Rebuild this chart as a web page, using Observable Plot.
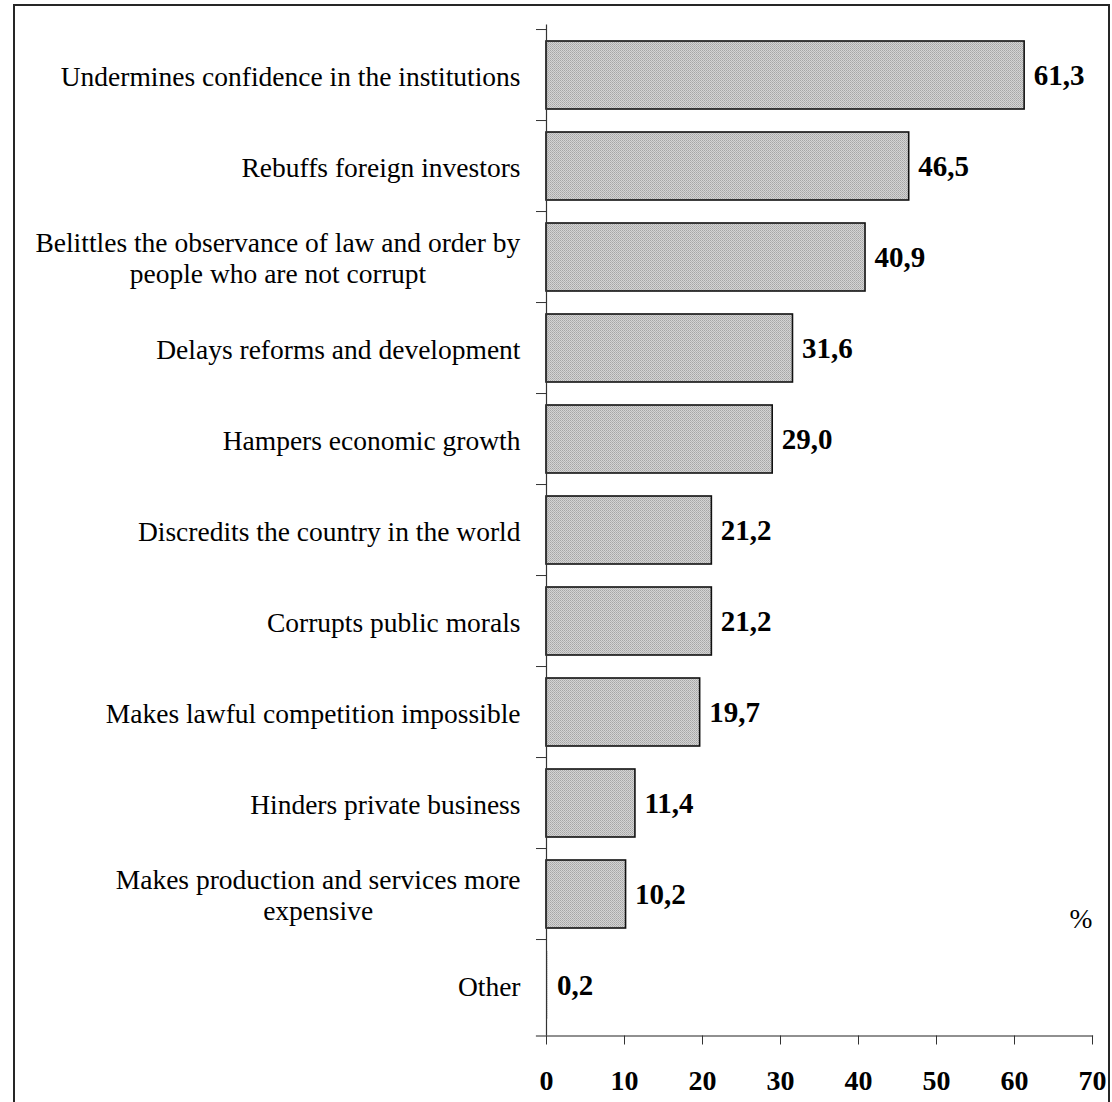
<!DOCTYPE html>
<html>
<head>
<meta charset="utf-8">
<script src="https://cdn.jsdelivr.net/npm/d3@7"></script>
<script src="https://cdn.jsdelivr.net/npm/@observablehq/plot@0.6"></script>
<style>
  html, body { margin: 0; padding: 0; background: #fff; overflow: hidden; }
  #chart { position: relative; width: 1112px; height: 1102px; overflow: hidden; }
  #chart .border {
    position: absolute; left: 13px; top: 4px; width: 1097px; height: 1120px;
    border: 2px solid #262626; box-sizing: border-box; pointer-events: none;
  }
  #chart svg { position: absolute; left: 0; top: 0; }
</style>
</head>
<body>
<div id="chart"><div class="border"></div></div>
<script>
// Perceived consequences of corruption (% of respondents)
const categories = [
  "Undermines confidence in the institutions",
  "Rebuffs foreign investors",
  "Belittles the observance of law and order by\npeople who are not corrupt",
  "Delays reforms and development",
  "Hampers economic growth",
  "Discredits the country in the world",
  "Corrupts public morals",
  "Makes lawful competition impossible",
  "Hinders private business",
  "Makes production and services more\nexpensive",
  "Other"
];
const values = [61.3, 46.5, 40.9, 31.6, 29.0, 21.2, 21.2, 19.7, 11.4, 10.2, 0.2];
const xTicks = [0, 10, 20, 30, 40, 50, 60, 70];
const unitLabel = "%";

const data = categories.map((category, i) => ({category, value: values[i]}));
const fmt = v => d3.format(".1f")(v).replace(".", ",");

const W = 1112, H = 1102;
const marginTop = 24.5, marginBottom = 66.5, marginLeft = 546, marginRight = 20;
const step = (H - marginTop - marginBottom) / categories.length;
const serif = "'Liberation Serif', 'Times New Roman', Times, serif";

const plot = Plot.plot({
  width: W,
  height: H,
  marginTop, marginBottom, marginLeft, marginRight,
  style: {fontFamily: serif, fontSize: "27.5px", color: "#000", background: "transparent", overflow: "visible"},
  x: {domain: [0, 70], ticks: xTicks},
  y: {domain: categories, paddingInner: 0.25, paddingOuter: 0.125},
  marks: [
    Plot.barX(data, {
      x: "value", y: "category", fill: "url(#hatch)",
      stroke: d => d.value < 1 ? "none" : "#111", strokeWidth: 1.6
    }),
    Plot.text(data, {
      x: "value", y: "category", text: d => fmt(d.value),
      textAnchor: "start", dx: 9, fontWeight: "bold", fontSize: 29, fill: "#000"
    }),
    // axis lines
    Plot.ruleX([0], {stroke: "#333", strokeWidth: 1.2}),
    Plot.frame({anchor: "bottom", insetLeft: -10, stroke: "#222", strokeWidth: 1.2}),
    // category boundary ticks
    Plot.axisY({tickSize: 10, tickFormat: () => "", dy: -step / 2, label: null, stroke: "#333"}),
    // category labels
    Plot.axisY({tickSize: 0, tickPadding: 26, fontSize: 27.5, lineHeight: 1.15, label: null, fill: "#000"}),
    Plot.axisX({
      tickSize: 9, tickPadding: 25, fontSize: 28, fontWeight: "bold",
      tickFormat: d => String(d), label: null, stroke: "#333", fill: "#000"
    }),
    Plot.text([unitLabel], {frameAnchor: "bottom-right", dy: -108, fontSize: 27.5, fill: "#000"})
  ]
});

document.getElementById("chart").appendChild(plot);

// very fine grey texture for the bars
const svg = d3.select(plot);
const pat = svg.insert("defs", ":first-child").append("pattern")
  .attr("id", "hatch").attr("patternUnits", "userSpaceOnUse")
  .attr("width", 2).attr("height", 2);
pat.append("rect").attr("width", 2).attr("height", 2).attr("fill", "#d4d4d4");
pat.append("rect").attr("width", 1).attr("height", 1).attr("fill", "#a6a6a6");
pat.append("rect").attr("x", 1).attr("y", 1).attr("width", 1).attr("height", 1).attr("fill", "#b4b4b4");

// center the lines of wrapped category labels on each other
svg.selectAll("text").each(function() {
  const tspans = this.querySelectorAll("tspan");
  if (tspans.length > 1) {
    const w = this.getBBox().width;
    this.setAttribute("text-anchor", "middle");
    tspans.forEach(t => t.setAttribute("x", -w / 2));
  }
});
</script>
</body>
</html>
